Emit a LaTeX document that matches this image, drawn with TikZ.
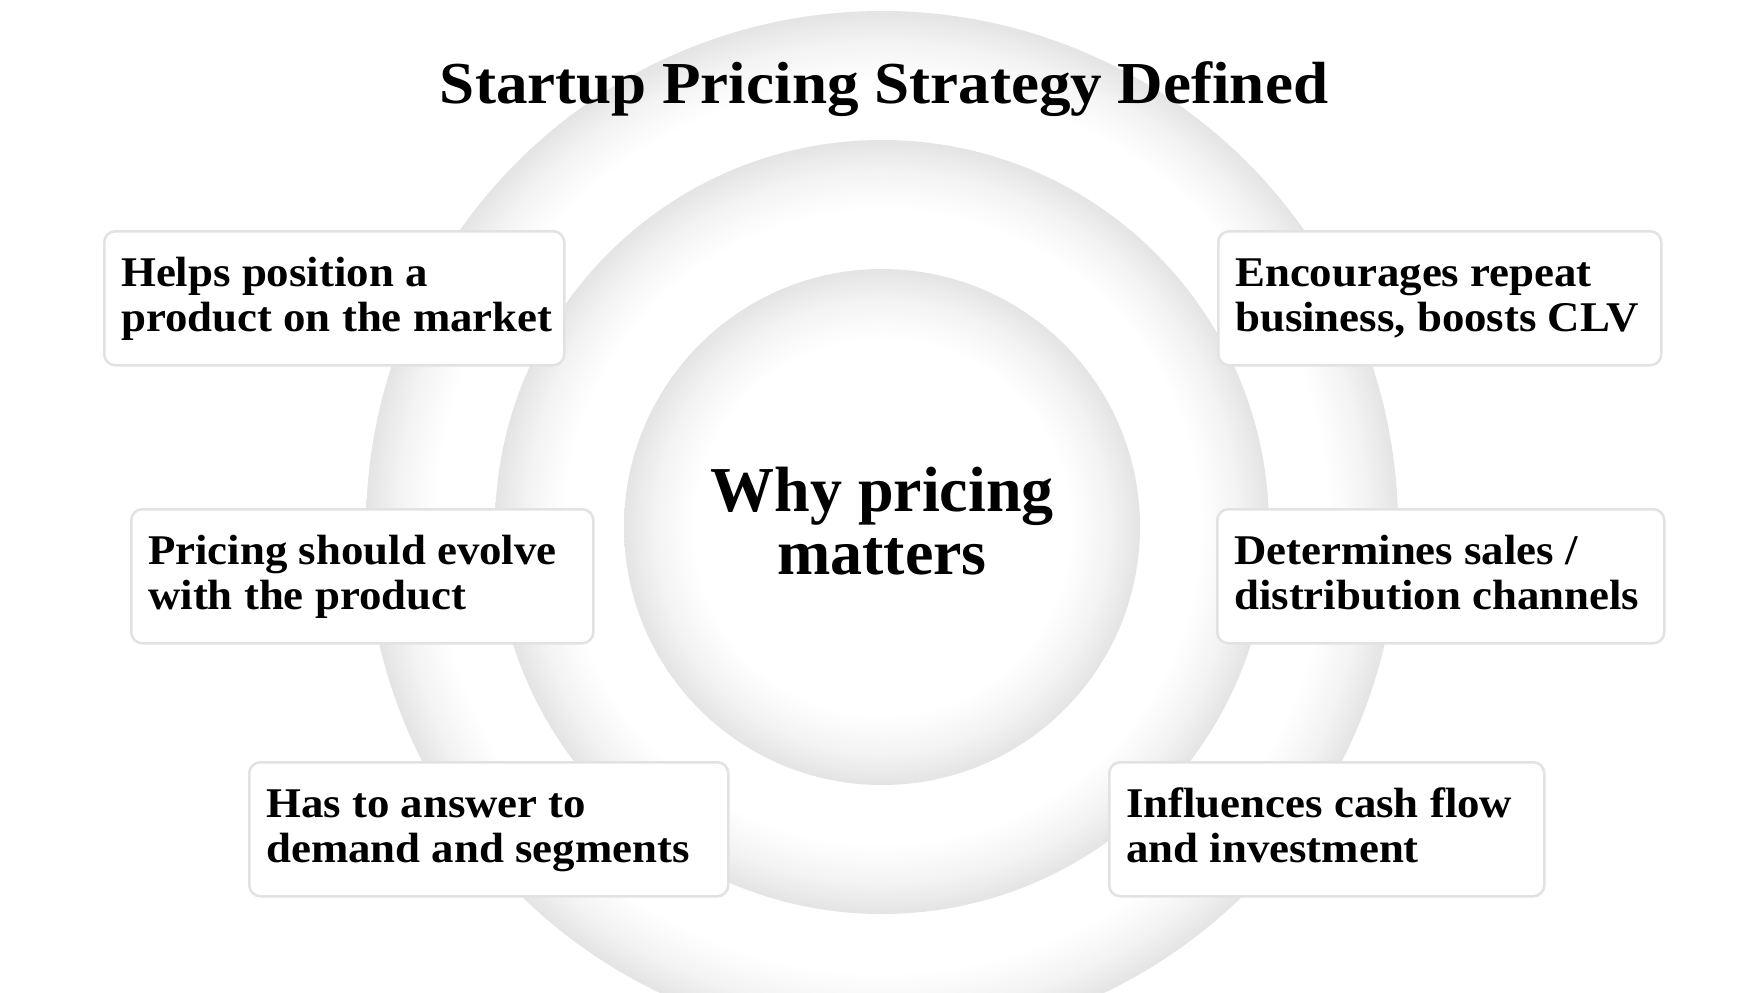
\documentclass[tikz,border=0pt]{standalone}
\usepackage{fontspec}
\setmainfont{Liberation Serif}[FakeStretch=1.06]
\newfontfamily\centerfont{Liberation Serif}
\definecolor{boxgray}{HTML}{E2E2E2}
\definecolor{rimgray}{HTML}{E4E4E4}
\definecolor{midgray}{HTML}{F3F3F3}
\pgfdeclareradialshading{innershade}{\pgfpoint{0bp}{0bp}}{color(0bp)=(white); color(18.2bp)=(white); color(22bp)=(midgray); color(25bp)=(rimgray); color(50bp)=(rimgray)}
\pgfdeclareradialshading{middleshade}{\pgfpoint{0bp}{0bp}}{color(0bp)=(white); color(20.5bp)=(white); color(23bp)=(midgray); color(25bp)=(rimgray); color(50bp)=(rimgray)}
\pgfdeclareradialshading{outershade}{\pgfpoint{0bp}{0bp}}{color(0bp)=(white); color(21.6bp)=(white); color(23.5bp)=(midgray); color(25bp)=(rimgray); color(50bp)=(rimgray)}
\begin{document}
\begin{tikzpicture}[x=1pt,y=-1pt,
  box/.style={draw=boxgray, line width=2.5pt, fill=white, rounded corners=11pt, inner sep=0pt, anchor=north west, minimum height=134pt},
  boxtext/.style={font=\fontsize{42.3}{45}\selectfont\bfseries, align=left, inner sep=0pt, anchor=north west, text=black, xshift=18pt, yshift=-22pt}]
\useasboundingbox[fill=white] (0,0) rectangle (1764,993);
\begin{scope}
\clip (0,0) rectangle (1764,993);
\shade[shading=outershade] (882,527) circle[radius=516];
\shade[shading=middleshade] (882,527) circle[radius=387];
\shade[shading=innershade] (882,527) circle[radius=258];
\end{scope}
\node[font=\fontsize{59.5}{60}\selectfont\bfseries, anchor=base, inner sep=0pt] (title) at (884,103) {Startup Pricing Strategy Defined};
\node[font=\centerfont\fontsize{64}{63}\selectfont\bfseries, align=center, anchor=north, inner sep=0pt] (center) at (882,461) {\rule{0pt}{50pt}Why pricing\\matters};
% boxes
\node[box, minimum width=460pt] (b1) at (103,230) {};
\node[boxtext] (t1) at (b1.north west) {\rule{0pt}{34pt}Helps position a\\product on the market};
\node[box, minimum width=443pt] (b2) at (1217,230) {};
\node[boxtext] (t2) at (b2.north west) {\rule{0pt}{34pt}Encourages repeat\\business, boosts CLV};
\node[box, minimum width=462pt] (b3) at (130,508) {};
\node[boxtext] (t3) at (b3.north west) {\rule{0pt}{34pt}Pricing should evolve\\with the product};
\node[box, minimum width=447pt] (b4) at (1216,508) {};
\node[boxtext] (t4) at (b4.north west) {\rule{0pt}{34pt}Determines sales /\\distribution channels};
\node[box, minimum width=479pt] (b5) at (248,761) {};
\node[boxtext] (t5) at (b5.north west) {\rule{0pt}{34pt}Has to answer to\\demand and segments};
\node[box, minimum width=435pt] (b6) at (1108,761) {};
\node[boxtext] (t6) at (b6.north west) {\rule{0pt}{34pt}Influences cash flow\\and investment};
\end{tikzpicture}
\end{document}
